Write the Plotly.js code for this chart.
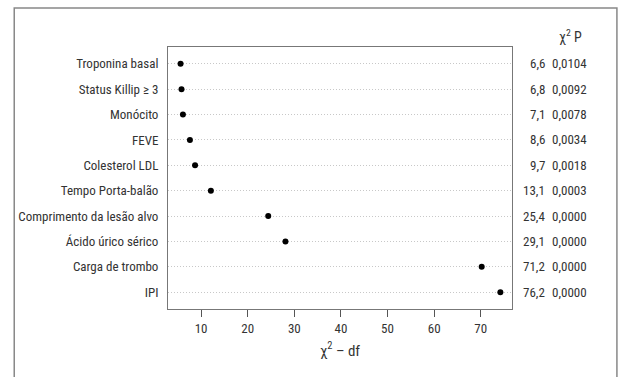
<!DOCTYPE html>
<html><head><meta charset="utf-8">
<script src="https://cdn.plot.ly/plotly-3.0.1.min.js"></script>
<style>body{margin:0;background:#fff}#c{width:619px;height:377px}</style>
</head><body><div id="c"></div>
<script>
const categories = ["Troponina basal","Status Killip \u2265 3","Monócito","FEVE","Colesterol LDL","Tempo Porta-balão","Comprimento da lesão alvo","Ácido úrico sérico","Carga de trombo","IPI"];
const chi2 = [6.6,6.8,7.1,8.6,9.7,13.1,25.4,29.1,71.2,76.2];
const df = [1,1,1,1,1,1,1,1,1,2];
const chi2Labels = ["6,6","6,8","7,1","8,6","9,7","13,1","25,4","29,1","71,2","76,2"];
const pLabels = ["0,0104","0,0092","0,0078","0,0034","0,0018","0,0003","0,0000","0,0000","0,0000","0,0000"];
const xTicks = [10,20,30,40,50,60,70];

const font = "Liberation Sans Narrow, Arial Narrow, Roboto Condensed, Liberation Sans, sans-serif";
const xVals = chi2.map((v,i)=>v-df[i]);

const annotations = [];
categories.forEach((c,i)=>{
  annotations.push({xref:'paper',yref:'y',x:1.101,y:c,text:chi2Labels[i],showarrow:false,xanchor:'right',font:{family:font,size:13,color:'#333'}});
  annotations.push({xref:'paper',yref:'y',x:1.11,y:c,text:pLabels[i],showarrow:false,xanchor:'left',font:{family:font,size:13,color:'#333'}});
});
annotations.push({xref:'paper',yref:'paper',x:1.17,y:1.0,text:'\u03c7<sup>2</sup> P',showarrow:false,xanchor:'center',yanchor:'bottom',font:{family:font,size:14,color:'#333'}});

const data = [{
  type:'scatter', mode:'markers', x:xVals, y:categories,
  marker:{color:'#000',size:6}, hoverinfo:'x+y', showlegend:false
}];
const layout = {
  width:619,height:377,
  margin:{l:168,r:107,t:47,b:68},
  paper_bgcolor:'#fff',plot_bgcolor:'#fff',
  font:{family:font,size:13,color:'#333'},
  xaxis:{range:[2.9,76.7],tickvals:xTicks,ticks:'outside',ticklen:7,tickcolor:'#555',automargin:false,
    showline:true,linecolor:'#777',mirror:true,showgrid:false,zeroline:false,
    tickfont:{family:font,size:13,color:'#333'},
    title:{text:'\u03c7<sup>2</sup> \u2013 df',font:{family:font,size:15,color:'#333'},standoff:10}},
  yaxis:{type:'category',autorange:'reversed',showline:true,linecolor:'#777',mirror:true,automargin:false,
    showgrid:true,gridcolor:'#c8c8c8',griddash:'1px,2px',gridwidth:1,ticks:'',ticklabelstandoff:6,
    tickfont:{family:font,size:13,color:'#333'}},
  annotations:annotations,
  shapes:[{type:'rect',xref:'paper',yref:'paper',x0:-0.447,x1:1.305,y0:-0.5,y1:1.149,line:{color:'#888',width:1.5}}]
};
Plotly.newPlot('c',data,layout,{displayModeBar:false,staticPlot:true});
</script></body></html>
